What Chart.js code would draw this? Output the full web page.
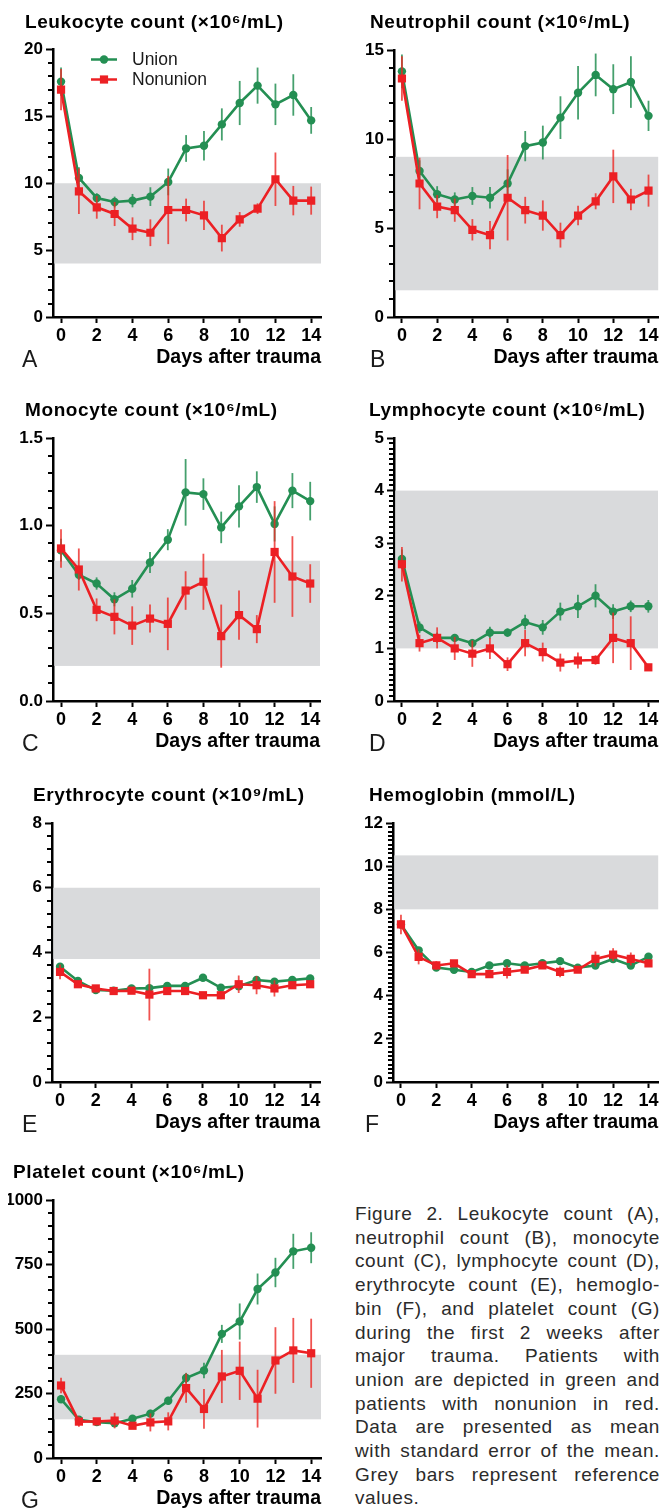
<!DOCTYPE html>
<html>
<head>
<meta charset="utf-8">
<script src="https://cdn.jsdelivr.net/npm/chart.js@4.4.1/dist/chart.umd.min.js"></script>
<style>
  body { margin: 0; background: #fff; width: 664px; height: 1511px; position: relative; overflow: hidden; }
  canvas { position: absolute; }
  #caption { position: absolute; left: 355px; top: 1202px; width: 305px;
    font-family: 'Liberation Sans', Arial, sans-serif; font-size: 19px; line-height: 23.7px;
    color: #2b2b2b; letter-spacing: 0.6px; }
  #caption div { text-align: justify; text-align-last: justify; }
  #caption div.last { text-align-last: left; }
</style>
</head>
<body>
<div id="caption">
  <div>Figure 2. Leukocyte count (A),</div>
  <div>neutrophil count (B), monocyte</div>
  <div>count (C), lymphocyte count (D),</div>
  <div>erythrocyte count (E), hemoglo-</div>
  <div>bin (F), and platelet count (G)</div>
  <div>during the first 2 weeks after</div>
  <div>major trauma. Patients with</div>
  <div>union are depicted in green and</div>
  <div>patients with nonunion in red.</div>
  <div>Data are presented as mean</div>
  <div>with standard error of the mean.</div>
  <div>Grey bars represent reference</div>
  <div class="last">values.</div>
</div>
<script>
const days = [0, 1, 2, 3, 4, 5, 6, 7, 8, 9, 10, 11, 12, 13, 14];
const xTicks = [0, 2, 4, 6, 8, 10, 12, 14];

// A - leukocytes
const leukoUnion = [17.6, 10.4, 8.9, 8.6, 8.7, 9.0, 10.1, 12.6, 12.8, 14.4, 16.0, 17.3, 15.9, 16.6, 14.7];
const leukoUnionSem = [1.05, 0.8, 0.35, 0.4, 0.5, 0.7, 1.0, 1.0, 1.1, 1.2, 1.65, 1.35, 1.55, 1.55, 1.0];
const leukoNonunion = [17.0, 9.4, 8.2, 7.7, 6.6, 6.3, 8.0, 8.0, 7.6, 5.9, 7.3, 8.1, 10.3, 8.7, 8.7];
const leukoNonunionSem = [1.55, 1.7, 0.85, 0.9, 0.85, 1.0, 2.55, 0.85, 1.1, 1.0, 0.55, 0.4, 2.0, 1.1, 1.05];
const leukoRef = [4, 10];
const leukoTicks = [0, 5, 10, 15, 20];

// B - neutrophils
const neutroUnion = [13.8, 8.2, 6.9, 6.6, 6.8, 6.7, 7.5, 9.6, 9.8, 11.2, 12.6, 13.6, 12.8, 13.2, 11.3];
const neutroUnionSem = [0.95, 0.6, 0.45, 0.4, 0.5, 0.6, 0.8, 0.85, 0.95, 1.2, 1.5, 1.2, 1.4, 1.45, 0.85];
const neutroNonunion = [13.4, 7.5, 6.2, 6.0, 4.9, 4.6, 6.7, 6.0, 5.7, 4.6, 5.7, 6.5, 7.9, 6.6, 7.1];
const neutroNonunionSem = [1.25, 1.45, 0.65, 0.65, 0.6, 0.8, 2.4, 0.75, 0.85, 0.7, 0.55, 0.45, 1.5, 0.6, 0.9];
const neutroRef = [1.5, 9];
const neutroTicks = [0, 5, 10, 15];

// C - monocytes
const monoUnion = [0.86, 0.72, 0.67, 0.58, 0.64, 0.79, 0.92, 1.19, 1.18, 0.99, 1.11, 1.22, 1.01, 1.20, 1.14];
const monoUnionSem = [0.065, 0.03, 0.035, 0.04, 0.05, 0.06, 0.06, 0.19, 0.09, 0.09, 0.12, 0.09, 0.1, 0.1, 0.11];
const monoNonunion = [0.87, 0.75, 0.52, 0.48, 0.43, 0.47, 0.44, 0.63, 0.68, 0.37, 0.49, 0.41, 0.85, 0.71, 0.67];
const monoNonunionSem = [0.11, 0.12, 0.065, 0.1, 0.11, 0.08, 0.15, 0.11, 0.16, 0.18, 0.14, 0.08, 0.29, 0.23, 0.11];
const monoRef = [0.2, 0.8];
const monoTicks = [0, 0.5, 1, 1.5];
const monoTickLabels = ['0.0', '0.5', '1.0', '1.5'];

// D - lymphocytes
const lymphoUnion = [2.7, 1.4, 1.2, 1.2, 1.1, 1.3, 1.3, 1.5, 1.4, 1.7, 1.8, 2.0, 1.7, 1.8, 1.8];
const lymphoUnionSem = [0.18, 0.11, 0.1, 0.07, 0.08, 0.11, 0.08, 0.14, 0.14, 0.17, 0.22, 0.22, 0.14, 0.11, 0.12];
const lymphoNonunion = [2.6, 1.1, 1.2, 1.0, 0.9, 1.0, 0.7, 1.1, 0.93, 0.73, 0.77, 0.78, 1.2, 1.1, 0.64];
const lymphoNonunionSem = [0.33, 0.16, 0.2, 0.22, 0.25, 0.2, 0.13, 0.25, 0.18, 0.17, 0.15, 0.09, 0.48, 0.51, 0.03];
const lymphoRef = [1, 4];
const lymphoTicks = [0, 1, 2, 3, 4, 5];

// E - erythrocytes
const eryUnion = [3.56, 3.12, 2.84, 2.82, 2.89, 2.9, 2.97, 2.97, 3.22, 2.91, 2.96, 3.15, 3.1, 3.15, 3.2];
const eryUnionSem = [0.08, 0.07, 0.06, 0.05, 0.06, 0.07, 0.06, 0.06, 0.08, 0.07, 0.07, 0.08, 0.07, 0.07, 0.07];
const eryNonunion = [3.4, 3.02, 2.89, 2.81, 2.82, 2.7, 2.81, 2.81, 2.68, 2.68, 3.02, 2.99, 2.89, 2.99, 3.02];
const eryNonunionSem = [0.23, 0.1, 0.1, 0.07, 0.08, 0.8, 0.1, 0.08, 0.08, 0.12, 0.27, 0.28, 0.25, 0.1, 0.1];
const eryRef = [3.8, 6];
const eryTicks = [0, 2, 4, 6, 8];

// F - hemoglobin
const hbUnion = [7.3, 6.1, 5.3, 5.2, 5.1, 5.4, 5.5, 5.4, 5.5, 5.6, 5.3, 5.4, 5.7, 5.4, 5.8];
const hbUnionSem = [0.15, 0.15, 0.1, 0.1, 0.1, 0.1, 0.1, 0.1, 0.1, 0.1, 0.1, 0.12, 0.12, 0.12, 0.1];
const hbNonunion = [7.3, 5.8, 5.4, 5.5, 5.0, 5.0, 5.1, 5.2, 5.4, 5.1, 5.2, 5.7, 5.9, 5.7, 5.5];
const hbNonunionSem = [0.45, 0.35, 0.2, 0.15, 0.1, 0.1, 0.3, 0.15, 0.15, 0.25, 0.15, 0.35, 0.3, 0.3, 0.1];
const hbRef = [8, 10.5];
const hbTicks = [0, 2, 4, 6, 8, 10, 12];

// G - platelets
const pltUnion = [228, 148, 139, 135, 152, 172, 222, 310, 339, 481, 529, 655, 719, 801, 815];
const pltUnionSem = [15, 15, 10, 15, 10, 15, 15, 20, 30, 35, 70, 60, 57, 68, 60];
const pltNonunion = [281, 141, 142, 145, 125, 138, 142, 271, 190, 316, 338, 230, 378, 417, 406];
const pltNonunionSem = [30, 20, 12, 30, 10, 35, 35, 57, 77, 103, 113, 112, 129, 126, 134];
const pltRef = [150, 400];
const pltTicks = [0, 250, 500, 750, 1000];

const GREEN = 'rgb(36,143,83)';
const GREEN_ERR = 'rgba(36,143,83,0.85)';
const RED = 'rgb(236,32,36)';
const RED_ERR = 'rgba(236,40,36,0.8)';
const BAND = '#d9dadc';
const FONT = "'Liberation Sans', Arial, Helvetica, sans-serif";
const Y_W = 45;
const X_H = 52;

const panels = [
  { title: 'Leukocyte count (×10⁶/mL)', letter: 'A', union: leukoUnion, unionSem: leukoUnionSem,
    nonunion: leukoNonunion, nonunionSem: leukoNonunionSem, ref: leukoRef, ticks: leukoTicks, minor: 1,
    box: [0, 0, 332, 375], area: [53, 49.5, 321, 317], titleX: 25, letterX: 22, legend: true },
  { title: 'Neutrophil count (×10⁶/mL)', letter: 'B', union: neutroUnion, unionSem: neutroUnionSem,
    nonunion: neutroNonunion, nonunionSem: neutroNonunionSem, ref: neutroRef, ticks: neutroTicks, minor: 1,
    box: [332, 0, 332, 375], area: [394, 50, 660, 317], titleX: 38, letterX: 38 },
  { title: 'Monocyte count (×10⁶/mL)', letter: 'C', union: monoUnion, unionSem: monoUnionSem,
    nonunion: monoNonunion, nonunionSem: monoNonunionSem, ref: monoRef, ticks: monoTicks, tickLabels: monoTickLabels, minor: 0.1,
    box: [0, 380, 332, 375], area: [53, 438, 320, 701], titleX: 25, letterX: 22 },
  { title: 'Lymphocyte count (×10⁶/mL)', letter: 'D', union: lymphoUnion, unionSem: lymphoUnionSem,
    nonunion: lymphoNonunion, nonunionSem: lymphoNonunionSem, ref: lymphoRef, ticks: lymphoTicks, minor: 0.1,
    box: [332, 380, 332, 375], area: [394, 438, 658, 701], titleX: 37, letterX: 37 },
  { title: 'Erythrocyte count (×10⁹/mL)', letter: 'E', union: eryUnion, unionSem: eryUnionSem,
    nonunion: eryNonunion, nonunionSem: eryNonunionSem, ref: eryRef, ticks: eryTicks, minor: 0.4,
    box: [0, 765, 332, 370], area: [52, 823, 320, 1082], titleX: 33, letterX: 22 },
  { title: 'Hemoglobin (mmol/L)', letter: 'F', union: hbUnion, unionSem: hbUnionSem,
    nonunion: hbNonunion, nonunionSem: hbNonunionSem, ref: hbRef, ticks: hbTicks, minor: 0.2,
    box: [332, 765, 332, 370], area: [393, 823, 660, 1082], titleX: 37, letterX: 33 },
  { title: 'Platelet count (×10⁶/mL)', letter: 'G', union: pltUnion, unionSem: pltUnionSem,
    nonunion: pltNonunion, nonunionSem: pltNonunionSem, ref: pltRef, ticks: pltTicks, minor: 50,
    box: [0, 1140, 332, 371], area: [53, 1200, 321, 1458], titleX: 13, letterX: 21 }
];

// grey reference range behind the data
const bandPlugin = {
  id: 'band',
  beforeDatasetsDraw(chart, args, opts) {
    const { ctx, chartArea: a, scales: { y } } = chart;
    const top = y.getPixelForValue(opts.range[1]);
    const bottom = y.getPixelForValue(opts.range[0]);
    ctx.save();
    ctx.fillStyle = BAND;
    ctx.fillRect(a.left + 1.3, top, a.right - a.left - 1.3, bottom - top);
    ctx.restore();
  }
};

// SEM whiskers, drawn just before each dataset's own line
const errorBarPlugin = {
  id: 'errorBars',
  beforeDatasetDraw(chart, args) {
    const ds = chart.data.datasets[args.index];
    const { ctx, scales: { x, y } } = chart;
    ctx.save();
    ctx.strokeStyle = ds.errColor;
    ctx.lineWidth = 1.8;
    ds.data.forEach((pt, i) => {
      const px = x.getPixelForValue(pt.x);
      ctx.beginPath();
      ctx.moveTo(px, y.getPixelForValue(pt.y + ds.sem[i]));
      ctx.lineTo(px, y.getPixelForValue(pt.y - ds.sem[i]));
      ctx.stroke();
    });
    ctx.restore();
  }
};

// minor ticks on the y axis (Prism style)
const minorTickPlugin = {
  id: 'minorTicks',
  afterDraw(chart, args, opts) {
    const { ctx, chartArea: a, scales: { y } } = chart;
    const n = Math.round(y.max / opts.step);
    ctx.save();
    ctx.strokeStyle = '#000';
    ctx.lineWidth = 2;
    for (let i = 1; i < n; i++) {
      const v = i * opts.step;
      if (opts.major.some(m => Math.abs(m - v) < opts.step / 10)) continue;
      const py = Math.round(y.getPixelForValue(v));
      ctx.beginPath();
      ctx.moveTo(a.left - 5, py);
      ctx.lineTo(a.left, py);
      ctx.stroke();
    }
    ctx.restore();
  }
};

// panel title, panel letter and (panel A only) the legend
const decorPlugin = {
  id: 'decor',
  afterDraw(chart, args, opts) {
    const { ctx, chartArea: a } = chart;
    ctx.save();
    ctx.fillStyle = '#000';
    ctx.textBaseline = 'middle';
    ctx.font = 'bold 19px ' + FONT;
    ctx.letterSpacing = '0.6px';
    ctx.fillText(opts.title, opts.titleX, a.top - 27);
    ctx.letterSpacing = '0px';
    ctx.textBaseline = 'alphabetic';
    ctx.font = '23px ' + FONT;
    ctx.fillStyle = '#1a1a1a';
    ctx.fillText(opts.letter, opts.letterX, a.bottom + 50);
    if (opts.legend) {
      chart.data.datasets.forEach((ds, i) => {
        const ly = a.top + 10 + i * 20;
        const x0 = a.left + 38, x1 = a.left + 64;
        ctx.strokeStyle = ds.borderColor;
        ctx.lineWidth = 2.5;
        ctx.beginPath();
        ctx.moveTo(x0, ly);
        ctx.lineTo(x1, ly);
        ctx.stroke();
        ctx.fillStyle = ds.backgroundColor;
        Chart.helpers.drawPoint(ctx, { pointStyle: ds.pointStyle, radius: ds.pointRadius, borderWidth: 0 }, (x0 + x1) / 2, ly);
        ctx.fillStyle = '#1a1a1a';
        ctx.font = '17.5px ' + FONT;
        ctx.textBaseline = 'middle';
        ctx.fillText(ds.label, a.left + 79, ly + 1);
      });
    }
    ctx.restore();
  }
};

function makePanel(p) {
  const canvas = document.createElement('canvas');
  const [bx, by, bw, bh] = p.box;
  const [al, at, ar, ab] = p.area;
  canvas.width = bw;
  canvas.height = bh;
  canvas.style.left = bx + 'px';
  canvas.style.top = by + 'px';
  document.body.appendChild(canvas);
  const yLabels = p.tickLabels || p.ticks.map(String);

  new Chart(canvas, {
    type: 'line',
    data: {
      datasets: [
        { label: 'Union', data: days.map((d, i) => ({ x: d, y: p.union[i] })), sem: p.unionSem,
          borderColor: GREEN, backgroundColor: GREEN, errColor: GREEN_ERR,
          pointStyle: 'circle', pointRadius: 4.2, pointBorderWidth: 0, borderWidth: 2.6, tension: 0, order: 1 },
        { label: 'Nonunion', data: days.map((d, i) => ({ x: d, y: p.nonunion[i] })), sem: p.nonunionSem,
          borderColor: RED, backgroundColor: RED, errColor: RED_ERR,
          pointStyle: 'rect', pointRadius: 5.8, pointBorderWidth: 0, borderWidth: 2.6, tension: 0, order: 0 }
      ]
    },
    options: {
      responsive: false,
      animation: false,
      devicePixelRatio: 1,
      layout: {
        padding: { left: al - bx - Y_W, top: at - by, right: bx + bw - ar, bottom: by + bh - ab - X_H }
      },
      plugins: {
        legend: { display: false },
        tooltip: { enabled: false },
        band: { range: p.ref },
        minorTicks: { step: p.minor, major: p.ticks },
        decor: { title: p.title, titleX: p.titleX, letter: p.letter, letterX: p.letterX, legend: !!p.legend }
      },
      scales: {
        x: {
          type: 'linear',
          min: -0.45,
          max: 14.55,
          afterBuildTicks: s => { s.ticks = xTicks.map(v => ({ value: v })); },
          afterFit: s => { s.height = X_H; },
          ticks: { autoSkip: false, maxRotation: 0, padding: 2, color: '#000',
            font: { family: FONT, size: 18, weight: 'bold' }, callback: v => String(v) },
          grid: { drawOnChartArea: false, drawTicks: true, tickLength: 6, tickWidth: 2, tickColor: '#000' },
          border: { display: true, color: '#000', width: 2.5 },
          title: { display: true, text: 'Days after trauma', align: 'end', color: '#000',
            padding: { top: 0, bottom: 0 }, font: { family: FONT, size: 19.5, weight: 'bold' } }
        },
        y: {
          min: 0,
          max: p.ticks[p.ticks.length - 1],
          afterBuildTicks: s => { s.ticks = p.ticks.map(v => ({ value: v })); },
          afterFit: s => { s.width = Y_W; },
          ticks: { padding: 3, color: '#000', font: { family: FONT, size: 17, weight: 'bold' },
            callback: (v, i) => yLabels[i] },
          grid: { drawOnChartArea: false, drawTicks: true, tickLength: 7, tickWidth: 2, tickColor: '#000' },
          border: { display: true, color: '#000', width: 2.5 }
        }
      }
    },
    plugins: [bandPlugin, errorBarPlugin, minorTickPlugin, decorPlugin]
  });
}

panels.forEach(makePanel);
</script>
</body>
</html>
